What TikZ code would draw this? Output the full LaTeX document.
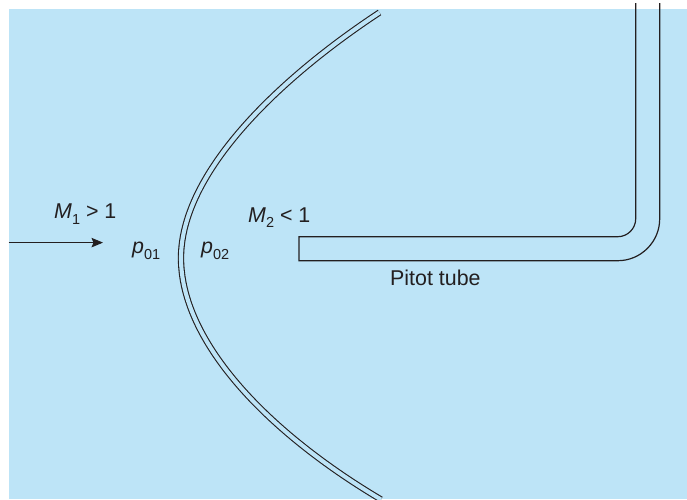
\documentclass[tikz,border=0pt]{standalone}
\usepackage{fontspec}
\setmainfont{Liberation Sans}
\usetikzlibrary{arrows.meta}
\definecolor{flowblue}{HTML}{BDE4F7}
\definecolor{inkline}{HTML}{231F20}
\newcommand{\lowsub}[1]{\raisebox{-5.5pt}{\fontsize{14.5}{16}\selectfont #1}}
\begin{document}
\begin{tikzpicture}[
    x=1pt, y=-1pt,
    label/.style={inner sep=0pt, anchor=base west, text=inkline, font=\fontsize{21.4}{25}\selectfont},
    tube/.style={draw=inkline, line width=1.2pt},
    shock/.style={draw=inkline, line width=1.1pt, double=flowblue, double distance=4.1pt},
    arrow/.style={-{Stealth[length=11.5pt, width=9.5pt, inset=2pt]}, draw=inkline, line width=.9pt}
]
    \useasboundingbox (0, 0) rectangle (687, 499);
    \fill[flowblue] (9, 9) rectangle (687, 499);

    % Shock wave
    \draw[shock] (379.5, 12.5) .. controls (280, 78) and (181, 172) .. (181, 258)
        .. controls (181, 340) and (264, 430) .. (381, 499.5);

    % Pitot tube
    \draw[tube] (635.7, 3) -- (635.7, 218.7) arc[start angle=0, end angle=90, radius=18]
        -- (299, 236.7) -- (299, 260.7) -- (617.7, 260.7)
        arc[start angle=90, end angle=0, radius=42] -- (659.7, 3);

    % Labels
    \node[label] (mone) at (54, 218.5) {\textit{M}\lowsub{1} > 1};
    \node[label] (mtwo) at (248, 222) {\textit{M}\lowsub{2} < 1};
    \node[label] (pone) at (132, 253.5) {\textit{p}\lowsub{01}};
    \node[label] (ptwo) at (201, 253.5) {\textit{p}\lowsub{02}};
    \node[label] (pitot) at (390, 285.5) {Pitot tube};

    % Incoming flow
    \coordinate (inlet) at (8.5, 242.6);
    \coordinate (outlet) at (103, 242.6);
    \draw[arrow] (inlet) -- (outlet);
\end{tikzpicture}
\end{document}
